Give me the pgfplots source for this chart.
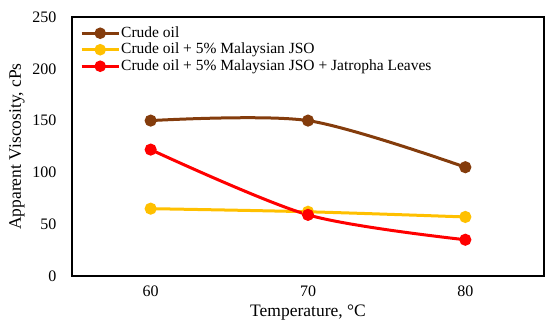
\documentclass[border=0pt]{standalone}
\usepackage{fontspec}
\setmainfont{Liberation Serif}
\usepackage{pgfplots}
\pgfplotsset{compat=1.18}
\definecolor{cbrown}{RGB}{132,60,12}
\definecolor{cyellow}{RGB}{255,192,0}
\definecolor{cred}{RGB}{255,0,0}
\begin{document}
\begin{tikzpicture}
\begin{axis}[
  name=ax,
  scale only axis,
  width=472bp, height=259bp,
  xmin=-0.5, xmax=2.5,
  ymin=0, ymax=250,
  xtick={0,1,2}, xticklabels={60,70,80},
  ytick={0,50,100,150,200,250},
  major tick length=0pt,
  tick label style={font=\fontsize{16bp}{18bp}\selectfont},
  /pgf/number format/assume math mode=true,
  xticklabel style={yshift=-6bp},
  yticklabel style={xshift=-12bp},
  axis line style={line width=1.3bp, black},
  xlabel={Temperature, \textdegree C},
  ylabel={Apparent Viscosity, cPs},
  every axis x label/.style={at={(axis description cs:0.5,-0.1429)}, anchor=center, font=\fontsize{17.5bp}{19bp}\selectfont},
  every axis y label/.style={at={(axis description cs:-0.1165,0.5)}, rotate=90, anchor=center, font=\fontsize{17.5bp}{19bp}\selectfont},
  legend style={draw=none, fill=none, at={(axis description cs:0.017,0.969)}, anchor=north west,
    font=\fontsize{15.5bp}{17bp}\selectfont, row sep=0.5bp, inner sep=0pt,
    nodes={inner sep=1bp, text height=11bp, text depth=3bp}},
  legend cell align=left,
  legend image code/.code={
    \draw[#1, mark=none] (0bp,0bp) -- (37bp,0bp);
    \fill[#1] (18.5bp,0bp) circle (4.2bp);
  },
  every axis plot/.append style={line width=3bp, mark=*, mark size=4.5bp, smooth, tension=0.5},
]
\addplot[cbrown, mark options={fill=cbrown}] coordinates {(0,150) (1,150) (2,105)};
\addlegendentry{Crude oil}
\addplot[cyellow, mark options={fill=cyellow}] coordinates {(0,65) (1,62) (2,57)};
\addlegendentry{Crude oil + 5\% Malaysian JSO}
\addplot[cred, mark options={fill=cred}] coordinates {(0,122) (1,59) (2,35)};
\addlegendentry{Crude oil + 5\% Malaysian JSO + Jatropha Leaves}
\end{axis}
\pgfresetboundingbox
\path ([shift={(-72bp,-56bp)}]ax.south west) rectangle ([shift={(6bp,17bp)}]ax.north east);
\end{tikzpicture}
\end{document}
